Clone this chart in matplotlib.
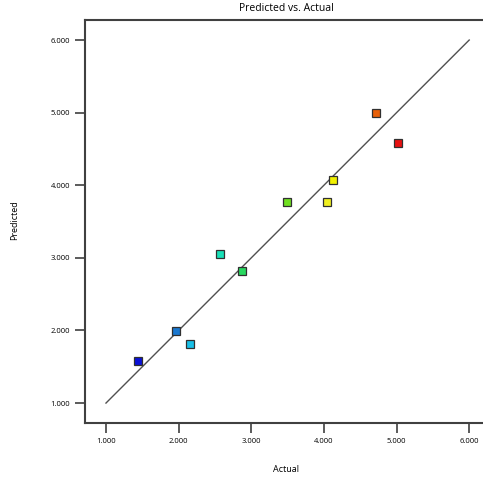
import matplotlib.pyplot as plt
import numpy as np

plt.rcParams['font.family'] = ['Open Sans', 'DejaVu Sans']

actual = [1.44, 1.96, 2.16, 2.57, 2.87, 3.49, 4.04, 4.13, 4.72, 5.02]
predicted = [1.58, 1.99, 1.81, 3.05, 2.82, 3.77, 3.77, 4.07, 4.99, 4.58]
colors = ['#0a10d8', '#1a78d0', '#18c0e8', '#18e0b8', '#28d860', '#70e020',
          '#f0f020', '#f0f000', '#e86008', '#e81010']
ticks = [1, 2, 3, 4, 5, 6]
tick_labels = ['1.000', '2.000', '3.000', '4.000', '5.000', '6.000']

fig = plt.figure(figsize=(4.83, 4.78), dpi=100)
ax = fig.add_axes([0.177, 0.115, 0.823, 0.843])

ax.plot([1, 6], [1, 6], color='#505050', linewidth=1)
for x, y, c in zip(actual, predicted, colors):
    ax.plot(x, y, marker='s', markersize=6.3, markerfacecolor=c,
            markeredgecolor='#303030', markeredgewidth=0.9, linestyle='none')

ax.set_xlim(0.718, 6.19)
ax.set_ylim(0.725, 6.275)
ax.set_xticks(ticks)
ax.set_xticklabels(tick_labels)
ax.set_yticks(ticks)
ax.set_yticklabels(tick_labels)
ax.tick_params(direction='out', length=7, width=1.2, labelsize=5.5, color='#404040', pad=4)
for s in ax.spines.values():
    s.set_linewidth(1.5)
    s.set_color('#404040')
ax.spines['right'].set_visible(False)

fig.text(0.593, 0.983, 'Predicted vs. Actual', ha='center', va='center', fontsize=7.5)
fig.text(0.593, 0.017, 'Actual', ha='center', va='center', fontsize=6.5)
fig.text(0.031, 0.54, 'Predicted', ha='center', va='center', rotation=90, fontsize=6.5)

plt.savefig('out.png', dpi=100)
